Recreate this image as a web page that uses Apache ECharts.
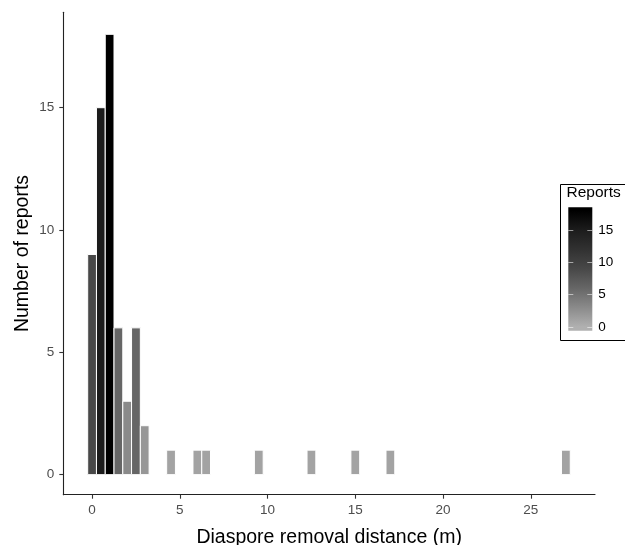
<!DOCTYPE html>
<html>
<head>
<meta charset="utf-8">
<script src="https://cdn.jsdelivr.net/npm/echarts@6/dist/echarts.min.js"></script>
<style>
html,body{margin:0;padding:0;background:#fff;}
#chart{width:625px;height:545px;}
</style>
</head>
<body>
<div id="chart"></div>
<script>
// Data
const distances = [0, 0.5, 1, 1.5, 2, 2.5, 3, 4.5, 6, 6.5, 9.5, 12.5, 15, 17, 27];
const reports = [9, 15, 18, 6, 3, 6, 2, 1, 1, 1, 1, 1, 1, 1, 1];
const xTicks = [0, 5, 10, 15, 20, 25];
const yTicks = [0, 5, 10, 15];
const legendTicks = [0, 5, 10, 15];
const binWidth = 0.5;
const colorRange = [0, 18];
const rampColors = ['#b0b0b0', '#8a8a8a', '#666666', '#484848', '#313131', '#1c1c1c', '#000000'];

const FONT = 'Liberation Sans, Arial, Helvetica, sans-serif';
const chart = echarts.init(document.getElementById('chart'), null, {renderer: 'canvas'});

// colour bar geometry (legend)
const cb = {left: 568.3, top: 207.3, width: 24, height: 123.4, min: -0.6, max: 18.5};
const span = cb.max - cb.min;
const stops = rampColors.map((c, i) => {
  const v = colorRange[0] + (colorRange[1] - colorRange[0]) * i / (rampColors.length - 1);
  return {offset: (cb.max - v) / span, color: c};
}).reverse();
stops.unshift({offset: 0, color: rampColors[rampColors.length - 1]});
stops.push({offset: 1, color: rampColors[0]});

const option = {
  backgroundColor: '#fff',
  animation: false,
  grid: [
    {left: 63.3, right: 30, top: 12.3, bottom: 50.3, containLabel: false, outerBoundsMode: 'none'},
    {left: cb.left, width: cb.width, top: cb.top, height: cb.height, containLabel: false, outerBoundsMode: 'none'}
  ],
  xAxis: [
    {
      type: 'value', gridIndex: 0, min: -1.64, max: 28.66,
      axisLine: {show: true, onZero: false, lineStyle: {color: '#222', width: 1.1}},
      axisTick: {show: true, length: 4, customValues: xTicks, lineStyle: {color: '#333', width: 1.1}},
      axisLabel: {customValues: xTicks, color: '#4d4d4d', fontSize: 13.5, fontFamily: FONT, margin: 9},
      splitLine: {show: false},
      name: 'Diaspore removal distance (m)', nameLocation: 'middle', nameGap: 33,
      nameTextStyle: {color: '#000', fontSize: 19.5, fontFamily: FONT}
    },
    {type: 'value', gridIndex: 1, min: 0, max: 1, show: false}
  ],
  yAxis: [
    {
      type: 'value', gridIndex: 0, min: -0.82, max: 18.9,
      axisLine: {show: true, onZero: false, lineStyle: {color: '#222', width: 1.1}},
      axisTick: {show: true, length: 4, customValues: yTicks, lineStyle: {color: '#333', width: 1.1}},
      axisLabel: {customValues: yTicks, color: '#4d4d4d', fontSize: 13.5, fontFamily: FONT, margin: 9},
      splitLine: {show: false},
      name: 'Number of reports', nameLocation: 'middle', nameGap: 31, nameRotate: 90, nameMoveOverlap: false,
      nameTextStyle: {color: '#000', fontSize: 19.5, fontFamily: FONT}
    },
    {
      type: 'value', gridIndex: 1, min: cb.min, max: cb.max, position: 'left', z: 10,
      axisLine: {show: false},
      axisTick: {show: true, inside: true, length: 5, customValues: legendTicks, lineStyle: {color: 'rgba(255,255,255,0.55)', width: 1}},
      axisLabel: {show: false},
      splitLine: {show: false}
    },
    {
      type: 'value', gridIndex: 1, min: cb.min, max: cb.max, position: 'right', z: 10,
      axisLine: {show: false},
      axisTick: {show: true, inside: true, length: 5, customValues: legendTicks, lineStyle: {color: 'rgba(255,255,255,0.55)', width: 1}},
      axisLabel: {show: true, customValues: legendTicks, color: '#000', fontSize: 13.5, fontFamily: FONT, margin: 6},
      splitLine: {show: false}
    }
  ],
  visualMap: {
    type: 'continuous', show: false, min: colorRange[0], max: colorRange[1], dimension: 1, seriesIndex: 0,
    inRange: {color: rampColors}
  },
  graphic: [
    {type: 'rect', z: 1, shape: {x: 560.5, y: 184.5, width: 80, height: 156}, style: {fill: 'none', stroke: '#000', lineWidth: 1}},
    {type: 'rect', z: 2, shape: {x: cb.left, y: cb.top, width: cb.width, height: cb.height},
      style: {fill: new echarts.graphic.LinearGradient(0, 0, 0, 1, stops)}},
    {type: 'text', z: 5, x: 566.5, y: 193, style: {text: 'Reports', fill: '#000', fontSize: 15.5, fontFamily: FONT, verticalAlign: 'middle'}}
  ],
  series: [{
    type: 'custom', xAxisIndex: 0, yAxisIndex: 0,
    data: distances.map((d, i) => [d, reports[i]]),
    encode: {x: 0, y: 1},
    renderItem: function (params, api) {
      const x = api.value(0), y = api.value(1);
      const p0 = api.coord([x - binWidth / 2, 0]);
      const p1 = api.coord([x + binWidth / 2, y]);
      return {
        type: 'rect',
        shape: {x: p0[0], y: p1[1], width: p1[0] - p0[0], height: p0[1] - p1[1]},
        style: {fill: api.visual('color'), stroke: '#fff', lineWidth: 1}
      };
    }
  }]
};
chart.setOption(option);
</script>
</body>
</html>
